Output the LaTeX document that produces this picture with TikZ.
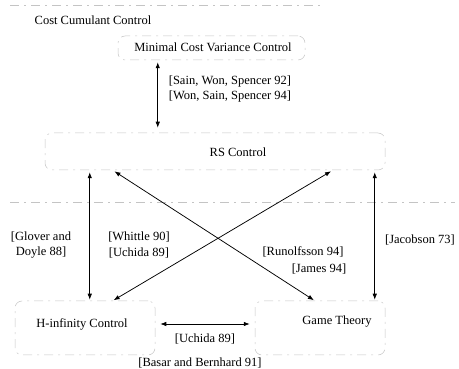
\documentclass[tikz,border=0pt]{standalone}
\usepackage{fontspec}
\setmainfont{Liberation Serif}
\usetikzlibrary{arrows.meta,positioning}
\definecolor{boxc}{HTML}{C4C4C4}
\tikzset{
  >={Latex[length=6pt,width=4.5pt]},
  region/.style={draw=boxc,dash pattern=on 9pt off 5pt on 2pt off 5pt,line width=0.5pt,rounded corners=7pt,inner sep=0pt},
  sepline/.style={draw=boxc,dash pattern=on 9pt off 5pt on 2pt off 5pt,line width=0.5pt},
  lbl/.style={font=\fontsize{12.5}{15}\selectfont,inner sep=0pt},
  ref/.style={font=\fontsize{12.5}{15.5}\selectfont,inner sep=0pt,align=center},
  link/.style={<->,line width=0.75pt,draw=black,shorten <=2pt,shorten >=2pt},
}

\begin{document}
\begin{tikzpicture}[x=1pt,y=-1pt]
  \useasboundingbox (0,0) rectangle (459,369);
  % regions
  \draw[sepline] (10,5) -- (320,5);
  \draw[sepline] (10,202) -- (455,202);
  \node[region,minimum width=187pt,minimum height=24pt] (mcvbox) at (211.5,48) {};
  \node[region,minimum width=340pt,minimum height=37pt] (rsbox) at (215,151.5) {};
  \node[region,minimum width=140pt,minimum height=54pt] (hinfbox) at (85,328) {};
  \node[region,minimum width=130pt,minimum height=54pt] (gtbox) at (320,328) {};
  % names
  \node[lbl] (cc) at (93,20) {Cost Cumulant Control};
  \node[lbl] (mcv) at (213,47) {Minimal Cost Variance Control};
  \node[lbl] (rs) at (238,152) {RS Control};
  \node[lbl] (hinf) at (82,324) {H-infinity Control};
  \node[lbl] (game) at (337,322) {Game Theory};
  % links
  \draw[link,shorten >=5pt] ([xshift=40pt]mcvbox.south west) -- ([xshift=40pt]mcvbox.south west |- rsbox.north);
  \draw[link,shorten >=1pt] ([xshift=45pt]rsbox.south west) -- ([xshift=45pt]rsbox.south west |- hinfbox.north);
  \draw[link,shorten >=1pt] ([xshift=68pt]rsbox.south west) -- ([xshift=60pt]gtbox.north west);
  \draw[link,shorten <=1pt] ([xshift=98pt]hinfbox.north west) -- ([xshift=288pt]rsbox.south west);
  \draw[link,shorten >=1pt] ([xshift=330pt]rsbox.south west) -- ([xshift=330pt]rsbox.south west |- gtbox.north);
  \draw[link,shorten <=5pt,shorten >=5pt] ([yshift=4pt]hinfbox.east) -- ([yshift=4pt]gtbox.west)
    node[ref,midway,below=9pt] (uch) {[Uchida 89]};
  % references
  \node[ref] (sain) at (230,89) {[Sain, Won, Spencer 92]\\{}[Won, Sain, Spencer 94]};
  \node[ref] (glover) at (41,245) {[Glover and\\Doyle 88]};
  \node[ref] (whittle) at (139,245) {[Whittle 90]\\{}[Uchida 89]};
  \node[ref] (jacob) at (420,240) {[Jacobson 73]};
  \node[ref] (runol) at (303,252) {[Runolfsson 94]};
  \node[ref] (james) at (319,269) {[James 94]};
  \node[ref] (basar) at (200,363) {[Basar and Bernhard 91]};
\end{tikzpicture}
\end{document}
